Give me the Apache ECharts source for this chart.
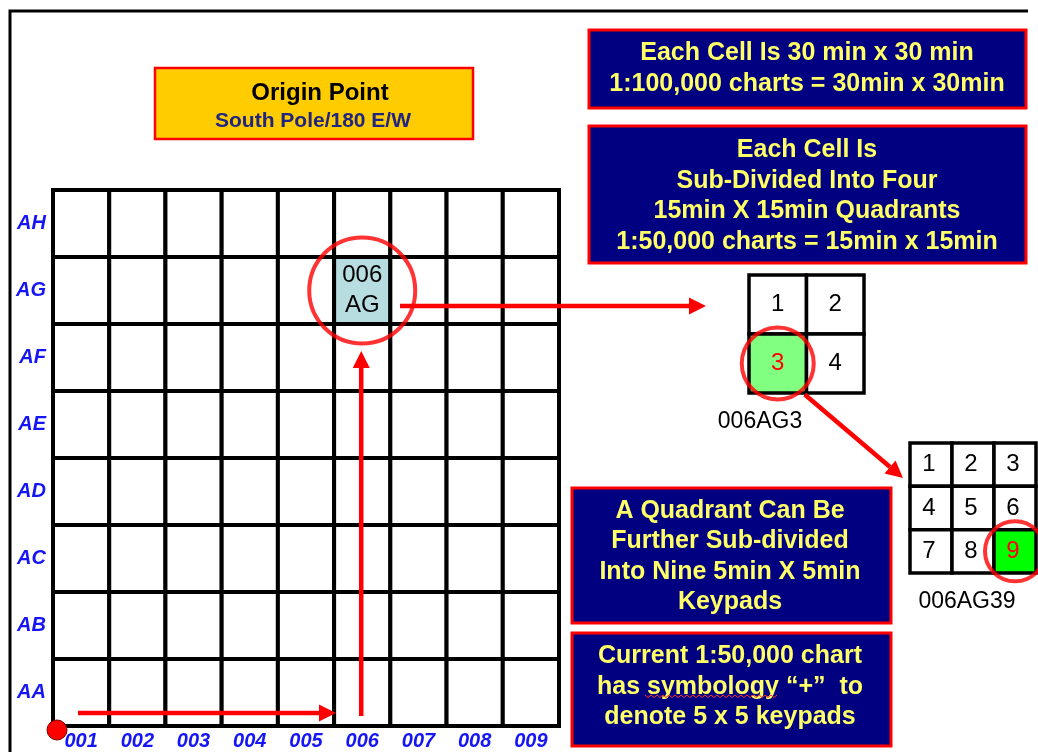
<!DOCTYPE html>
<html>
<head>
<meta charset="utf-8">
<title>Grid reference system</title>
<script src="https://cdn.jsdelivr.net/npm/echarts@6/dist/echarts.min.js"></script>
<style>
  html, body { margin: 0; padding: 0; background: #fff; }
  #chart { width: 1038px; height: 752px; }
</style>
</head>
<body>
<div id="chart"></div>
<script>
// grid categories
var cols = ['001', '002', '003', '004', '005', '006', '007', '008', '009'];
var rows = ['AA', 'AB', 'AC', 'AD', 'AE', 'AF', 'AG', 'AH'];
var target = ['006', 'AG'];

// quadrants of one cell (2 x 2) and keypads of one quadrant (3 x 3)
var quadLabels = ['1', '2', '3', '4'];
var quadPick = '3';
var padLabels = ['1', '2', '3', '4', '5', '6', '7', '8', '9'];
var padPick = '9';

// text boxes
var originText = ['Origin Point', 'South Pole/180 E/W'];
var boxScale = ['Each Cell Is 30 min x 30 min', '1:100,000 charts = 30min x 30min'];
var boxQuad = ['Each Cell Is', 'Sub-Divided Into Four', '15min X 15min Quadrants', '1:50,000 charts = 15min x 15min'];
var boxPad = ['A Quadrant Can Be', 'Further Sub-divided', 'Into Nine 5min X 5min', 'Keypads'];
var boxNote = ['Current 1:50,000 chart', 'has symbology \u201c+\u201d  to', 'denote 5 x 5 keypads'];

var FONT = "'Liberation Sans', Arial, sans-serif";
var RED = '#ff0000';

var chart = echarts.init(document.getElementById('chart'));

var mainCells = [];
cols.forEach(function (c, i) {
  rows.forEach(function (r, j) { mainCells.push([i, j]); });
});
var quadCells = quadLabels.map(function (l, k) { return [k % 2, Math.floor(k / 2)]; });
var padCells = padLabels.map(function (l, k) { return [k % 3, Math.floor(k / 3)]; });

function cellRect(api, fill, lw) {
  var c = api.coord([api.value(0), api.value(1)]);
  var s = api.size([1, 1]);
  return {
    x: c[0], y: c[1],
    rect: {
      type: 'rect',
      shape: { x: c[0] - s[0] / 2, y: c[1] - s[1] / 2, width: s[0], height: s[1] },
      style: { fill: fill, stroke: '#000', lineWidth: lw }
    }
  };
}

function hiddenAxis(grid, data, inverse) {
  return {
    type: 'category', gridIndex: grid, data: data, inverse: !!inverse,
    axisLine: { show: false }, axisTick: { show: false }, axisLabel: { show: false },
    splitLine: { show: false }
  };
}

var tIdx = [cols.indexOf(target[0]), rows.indexOf(target[1])];
var qIdx = quadLabels.indexOf(quadPick);
var pIdx = padLabels.indexOf(padPick);

var option = {
  animation: false,
  grid: [
    { left: 53, top: 190, width: 506, height: 536 },
    { left: 749, top: 275, width: 115, height: 118 },
    { left: 910, top: 443, width: 126, height: 130 }
  ],
  xAxis: [
    {
      type: 'category', gridIndex: 0, data: cols,
      axisLine: { show: false }, axisTick: { show: false }, splitLine: { show: false },
      axisLabel: {
        margin: 5, color: '#1515f5', fontFamily: FONT, fontSize: 20,
        fontWeight: 'bold', fontStyle: 'italic'
      }
    },
    hiddenAxis(1, ['L', 'R']),
    hiddenAxis(2, ['L', 'M', 'R'])
  ],
  yAxis: [
    {
      type: 'category', gridIndex: 0, data: rows,
      axisLine: { show: false }, axisTick: { show: false }, splitLine: { show: false },
      axisLabel: {
        margin: 7, color: '#1515f5', fontFamily: FONT, fontSize: 20,
        fontWeight: 'bold', fontStyle: 'italic'
      }
    },
    hiddenAxis(1, ['T', 'B'], true),
    hiddenAxis(2, ['T', 'M', 'B'], true)
  ],
  series: [
    {
      type: 'custom', xAxisIndex: 0, yAxisIndex: 0, data: mainCells,
      renderItem: function (params, api) {
        var hit = api.value(0) === tIdx[0] && api.value(1) === tIdx[1];
        var r = cellRect(api, hit ? '#b7dde0' : '#fff', 4);
        if (!hit) return r.rect;
        return {
          type: 'group',
          children: [r.rect, {
            type: 'text', x: r.x, y: r.y,
            style: {
              text: cols[api.value(0)] + '\n' + rows[api.value(1)],
              fill: '#000', font: '24px ' + FONT, lineHeight: 30,
              align: 'center', verticalAlign: 'middle'
            }
          }]
        };
      }
    },
    {
      type: 'custom', xAxisIndex: 1, yAxisIndex: 1, data: quadCells,
      renderItem: function (params, api) {
        var lab = quadLabels[params.dataIndex];
        var r = cellRect(api, lab === quadPick ? '#80ff80' : '#fff', 3.5);
        return {
          type: 'group',
          children: [r.rect, {
            type: 'text', x: r.x, y: r.y,
            style: {
              text: lab, fill: lab === quadPick ? RED : '#000', font: '24px ' + FONT,
              align: 'center', verticalAlign: 'middle'
            }
          }]
        };
      }
    },
    {
      type: 'custom', xAxisIndex: 2, yAxisIndex: 2, data: padCells,
      renderItem: function (params, api) {
        var lab = padLabels[params.dataIndex];
        var r = cellRect(api, lab === padPick ? '#00ff00' : '#fff', 3.5);
        return {
          type: 'group',
          children: [r.rect, {
            type: 'text', x: r.x - 2, y: r.y,
            style: {
              text: lab, fill: lab === padPick ? RED : '#000', font: '24px ' + FONT,
              align: 'center', verticalAlign: 'middle'
            }
          }]
        };
      }
    },
    {
      type: 'scatter', xAxisIndex: 0, yAxisIndex: 0, z: 5, symbolSize: 106, silent: true,
      data: [tIdx],
      itemStyle: { color: 'rgba(0,0,0,0)', borderColor: RED, borderWidth: 4 }
    },
    {
      type: 'scatter', xAxisIndex: 1, yAxisIndex: 1, z: 5, symbolSize: 72, silent: true,
      data: [quadCells[qIdx]],
      itemStyle: { color: 'rgba(0,0,0,0)', borderColor: RED, borderWidth: 4 }
    },
    {
      type: 'scatter', xAxisIndex: 2, yAxisIndex: 2, z: 5, symbolSize: 60, silent: true,
      data: [padCells[pIdx]],
      itemStyle: { color: 'rgba(0,0,0,0)', borderColor: RED, borderWidth: 4 }
    }
  ]
};
chart.setOption(option);

// ---- annotations: frame, boxes, arrows ----
function arrow(x1, y1, x2, y2) {
  var a = Math.atan2(y2 - y1, x2 - x1);
  var hl = 17, hw = 8.5;
  var bx = x2 - hl * Math.cos(a), by = y2 - hl * Math.sin(a);
  var nx = -Math.sin(a), ny = Math.cos(a);
  return [
    { type: 'line', z: 50, shape: { x1: x1, y1: y1, x2: bx, y2: by }, style: { stroke: RED, lineWidth: 4.5 } },
    { type: 'polygon', z: 50, shape: { points: [[x2, y2], [bx + hw * nx, by + hw * ny], [bx - hw * nx, by - hw * ny]] }, style: { fill: RED } }
  ];
}

function textBox(x, y, w, h, lines, cx, cy, opt) {
  return [
    { type: 'rect', z: 40, shape: { x: x, y: y, width: w, height: h },
      style: { fill: opt.fill, stroke: RED, lineWidth: opt.border } },
    { type: 'text', z: 41, x: cx, y: cy,
      style: { text: lines.join('\n'), fill: opt.color, font: 'bold 25px ' + FONT,
        lineHeight: opt.lh || 30.5, align: 'center', verticalAlign: 'middle' } }
  ];
}

var navy = { fill: '#000080', color: '#ffff66', border: 3 };

var p = chart.convertToPixel({ xAxisIndex: 0, yAxisIndex: 0 }, tIdx);
var q = chart.convertToPixel({ xAxisIndex: 1, yAxisIndex: 1 }, quadCells[qIdx]);

var wave = [];
for (var k = 0; k <= 44; k++) wave.push([645 + k * 3, 696 + (k % 2 ? 1.5 : -1)]);

var graphic = [
  { type: 'polyline', z: 1, shape: { points: [[10, 752], [10, 11], [1028, 11]] }, style: { stroke: '#000', lineWidth: 3, fill: null } },
  { type: 'rect', z: 40, shape: { x: 155, y: 68, width: 318, height: 71 }, style: { fill: '#ffcc00', stroke: RED, lineWidth: 2.5 } },
  { type: 'text', z: 41, x: 320, y: 93, style: { text: originText[0], fill: '#000', font: 'bold 24px ' + FONT, align: 'center', verticalAlign: 'middle' } },
  { type: 'text', z: 41, x: 313, y: 121, style: { text: originText[1], fill: '#1f2580', font: 'bold 21px ' + FONT, align: 'center', verticalAlign: 'middle' } },
  { type: 'circle', z: 60, shape: { cx: 57, cy: 730, r: 10 }, style: { fill: RED, stroke: '#7a0000', lineWidth: 1 } },
  { type: 'text', z: 41, x: 760, y: 422, style: { text: target[0] + target[1] + quadPick, fill: '#000', font: '23px ' + FONT, align: 'center', verticalAlign: 'middle' } },
  { type: 'text', z: 41, x: 967, y: 602, style: { text: target[0] + target[1] + quadPick + padPick, fill: '#000', font: '23px ' + FONT, align: 'center', verticalAlign: 'middle' } },
  { type: 'polyline', z: 42, shape: { points: wave }, style: { stroke: '#ff3030', lineWidth: 1, fill: null } }
]
  .concat(textBox(589, 30, 437, 78, boxScale, 807, 68.5, navy))
  .concat(textBox(589, 126, 437, 137, boxQuad, 807, 196, navy))
  .concat(textBox(572, 488, 319, 135, boxPad, 730, 556.5, navy))
  .concat(textBox(572, 633, 319, 113, boxNote, 730, 687, navy))
  .concat(arrow(78, 713, 336, 713))
  .concat(arrow(p[0] - 1, 716, p[0] - 1, 351))
  .concat(arrow(400, 306, 706, 306))
  .concat(arrow(q[0] + 27, q[1] + 31, 903, 478));

chart.setOption({ graphic: graphic });
</script>
</body>
</html>
